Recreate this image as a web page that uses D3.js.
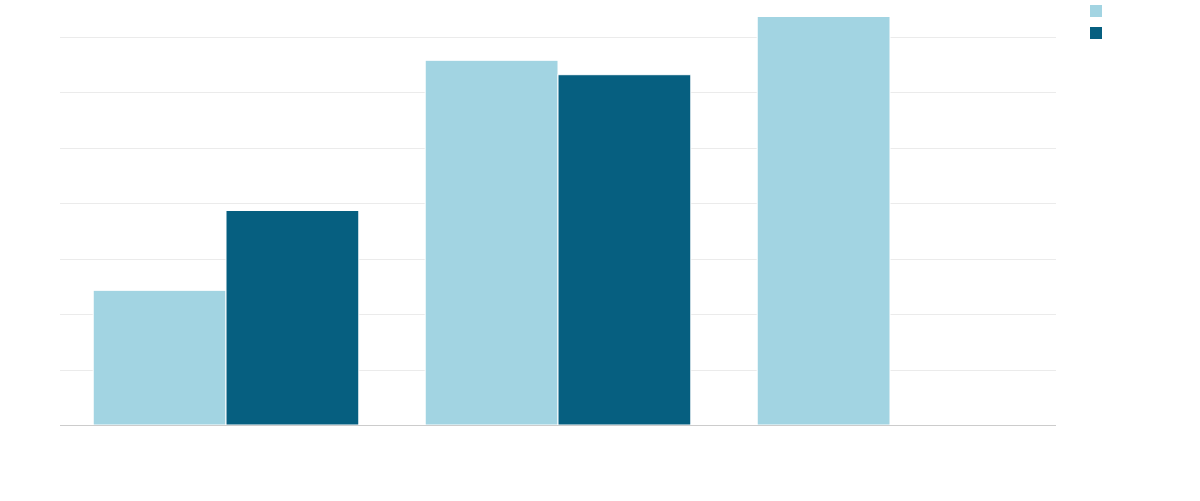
<!DOCTYPE html>
<html>
<head>
<meta charset="utf-8">
<script src="https://cdn.jsdelivr.net/npm/d3@7"></script>
<style>
  html, body { margin: 0; padding: 0; background: #fff; }
  svg { display: block; font-family: "Open Sans", sans-serif; }
</style>
</head>
<body>
<div id="chart"></div>
<script>
// chart values (no labels are shown in the picture)
const categories = ['A', 'B', 'C'];
const seriesNames = ['Series 1', 'Series 2'];
const series1 = [2.43, 6.58, 7.37];
const series2 = [3.87, 6.32, null];
const yTicks = [0, 1, 2, 3, 4, 5, 6, 7];
const colors = ['#a2d4e2', '#065f80'];

const width = 1200, height = 501;
const margin = { top: 37, right: 144, bottom: 76, left: 60 };
const innerW = width - margin.left - margin.right;
const innerH = height - margin.top - margin.bottom;

const svg = d3.select('#chart')
  .append('svg')
  .attr('width', width)
  .attr('height', height);

const g = svg.append('g')
  .attr('transform', 'translate(' + margin.left + ',' + margin.top + ')');

const x0 = d3.scaleBand()
  .domain(categories)
  .range([0, innerW])
  .padding(0);

const x1 = d3.scaleBand()
  .domain(seriesNames)
  .range([0, x0.bandwidth()])
  .paddingInner(0)
  .paddingOuter(0.25);

const y = d3.scaleLinear()
  .domain([0, 7])
  .range([innerH, 0]);

// gridlines
g.append('g')
  .selectAll('line')
  .data(yTicks.filter(d => d > 0))
  .enter()
  .append('line')
  .attr('x1', 0)
  .attr('x2', innerW)
  .attr('y1', d => Math.round(y(d)) + 0.5)
  .attr('y2', d => Math.round(y(d)) + 0.5)
  .attr('stroke', '#ebebeb')
  .attr('stroke-width', 1);

const rows = categories.map((c, i) => ({
  cat: c,
  values: [series1[i], series2[i]]
}));

const groups = g.selectAll('.cat')
  .data(rows)
  .enter()
  .append('g')
  .attr('class', 'cat')
  .attr('transform', d => 'translate(' + x0(d.cat) + ',0)');

groups.selectAll('rect')
  .data(d => d.values.map((v, j) => ({ name: seriesNames[j], value: v, j: j })).filter(d => d.value != null))
  .enter()
  .append('rect')
  .attr('x', d => x1(d.name))
  .attr('width', x1.bandwidth())
  .attr('y', d => y(d.value))
  .attr('height', d => y(0) - y(d.value))
  .attr('fill', d => colors[d.j])
  .attr('stroke', '#ffffff')
  .attr('stroke-width', 1);

// baseline
g.append('line')
  .attr('x1', 0)
  .attr('x2', innerW)
  .attr('y1', Math.round(y(0)) + 0.5)
  .attr('y2', Math.round(y(0)) + 0.5)
  .attr('stroke', '#cccccc')
  .attr('stroke-width', 1);

// legend
const legend = svg.append('g')
  .attr('transform', 'translate(1090,5)');

legend.selectAll('rect')
  .data(seriesNames)
  .enter()
  .append('rect')
  .attr('x', 0)
  .attr('y', (d, i) => i * 22)
  .attr('width', 12)
  .attr('height', 12)
  .attr('fill', (d, i) => colors[i]);
</script>
</body>
</html>
